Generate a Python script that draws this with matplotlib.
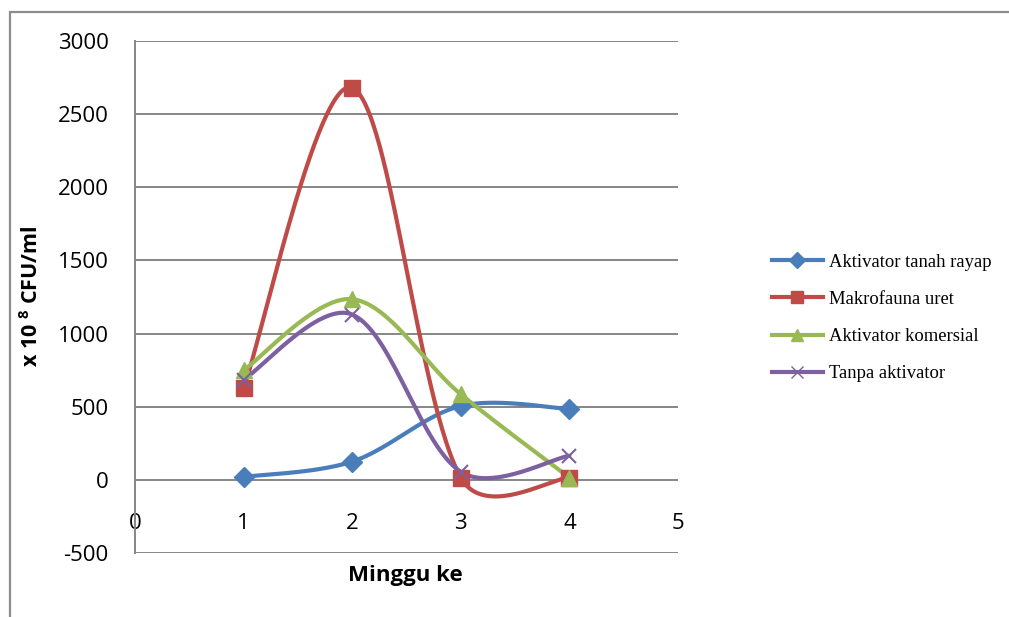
import numpy as np
import matplotlib
matplotlib.use('Agg')
import matplotlib.pyplot as plt
from matplotlib.patches import Rectangle

plt.rcParams['font.family'] = ['Open Sans', 'DejaVu Sans']
plt.rcParams['axes.unicode_minus'] = False
plt.rcParams['mathtext.fontset'] = 'custom'
plt.rcParams['mathtext.bf'] = 'Open Sans:bold'

# data: bacterial count per week
minggu = [1, 2, 3, 4]
tanah_rayap = [20, 125, 505, 485]
makrofauna_uret = [625, 2680, 15, 15]
komersial = [750, 1235, 585, 15]
tanpa = [685, 1130, 55, 165]

series = [
    ('Aktivator tanah rayap', tanah_rayap, '#4A7EBB', 'D', 10),
    ('Makrofauna uret', makrofauna_uret, '#BE4B48', 's', 11),
    ('Aktivator komersial', komersial, '#98B954', '^', 11),
    ('Tanpa aktivator', tanpa, '#7D60A0', 'x', 10),
]

W, H = 1009, 617
fig = plt.figure(figsize=(W / 100, H / 100), dpi=100)

# outer chart frame
fig.patches.append(Rectangle((10 / W, -0.1), 1.2, 1 - 12 / H + 0.1,
                             transform=fig.transFigure, fill=False,
                             edgecolor='#8c8c8c', linewidth=1.6))

ax = fig.add_axes([135 / W, (H - 553) / H, (678 - 135) / W, (553 - 41) / H])
ax.set_xlim(0, 5)
ax.set_ylim(-500, 3000)
ax.set_yticks(np.arange(-500, 3001, 500))
ax.set_xticks(range(0, 6))

grid_c = '#868686'
for v in np.arange(-500, 3001, 500):
    ax.axhline(v, color=grid_c, lw=1.4, zorder=1)

for s in ['top', 'right', 'bottom']:
    ax.spines[s].set_visible(False)
ax.spines['left'].set_color(grid_c)
ax.spines['left'].set_linewidth(1.4)
ax.spines['bottom'].set_position(('data', 0))

ax.tick_params(axis='both', length=0, labelsize=16)
ax.tick_params(axis='y', pad=19)
ax.tick_params(axis='x', pad=24)


def smooth(xs, ys, n=60):
    # bezier smoothing in display space, tangent scaled by segment lengths
    pts = ax.transData.transform(np.column_stack([xs, ys]))
    m = len(pts)
    out = []
    for i in range(m - 1):
        p0 = pts[max(i - 1, 0)]
        p1 = pts[i]
        p2 = pts[i + 1]
        p3 = pts[min(i + 2, m - 1)]
        d01 = np.hypot(*(p1 - p0))
        d12 = np.hypot(*(p2 - p1))
        d23 = np.hypot(*(p3 - p2))
        f1 = 1 / 6 * np.sqrt(2 * d12 / (d01 + d12)) if d01 > 0 else 1 / 6
        f2 = 1 / 6 * np.sqrt(2 * d12 / (d12 + d23)) if d23 > 0 else 1 / 6
        c1 = p1 + (p2 - p0) * min(f1, 1 / 6 * 1.2)
        c2 = p2 - (p3 - p1) * min(f2, 1 / 6 * 1.2)
        t = np.linspace(0, 1, n)[:, None]
        seg = ((1 - t) ** 3 * p1 + 3 * (1 - t) ** 2 * t * c1
               + 3 * (1 - t) * t ** 2 * c2 + t ** 3 * p2)
        out.append(seg if i == 0 else seg[1:])
    out = np.vstack(out)
    return ax.transData.inverted().transform(out)


for name, vals, col, mk, ms in series:
    curve = smooth(minggu, vals)
    ax.plot(curve[:, 0], curve[:, 1], color=col, lw=3, zorder=3,
            solid_capstyle='round')
    ax.plot(minggu, vals, linestyle='none', marker=mk, markersize=ms,
            color=col, markeredgecolor=col, markeredgewidth=1.5 if mk == 'x' else 1,
            zorder=4)
    ax.plot([], [], color=col, lw=3, marker=mk, markersize=ms * 0.8,
            markeredgecolor=col, label=name)

fig.text(32 / W, 1 - 296 / H, r'x 10 $^{\mathbf{8}}$ CFU/ml', rotation=90,
         ha='center', va='center', fontsize=15.5, fontweight='bold')
fig.text(405 / W, 1 - 576 / H, 'Minggu ke', ha='center', va='center',
         fontsize=16, fontweight='bold')

ax.legend(loc='center left', bbox_to_anchor=(755 / W, 1 - 318 / H),
          bbox_transform=fig.transFigure, frameon=False,
          prop={'family': 'Liberation Serif', 'size': 13.4},
          handlelength=2.75, handletextpad=0.35, labelspacing=1.08)

fig.savefig('out.png', dpi=100)
